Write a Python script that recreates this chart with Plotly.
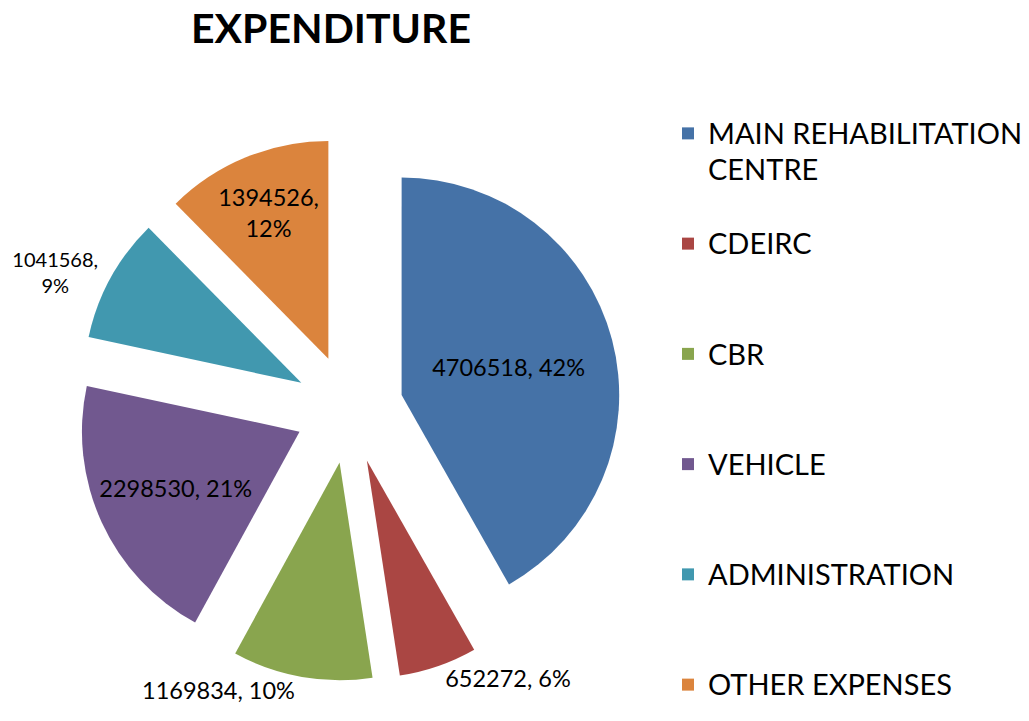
import textwrap
import plotly.graph_objects as go

categories = ["MAIN REHABILITATION CENTRE", "CDEIRC", "CBR", "VEHICLE",
              "ADMINISTRATION", "OTHER EXPENSES"]
amounts = [4706518, 652272, 1169834, 2298530, 1041568, 1394526]
percent_labels = ["42%", "6%", "10%", "21%", "9%", "12%"]
colors = ["#4572A7", "#AA4643", "#89A54E", "#71588F", "#4198AF", "#DB843D"]

FONT = "Lato"
W, H = 1029, 721

# data labels
label_break = [", ", ", ", ", ", ", ", ",<br>", ",<br>"]
label_pos = ["inside", "outside", "outside", "inside", "outside", "inside"]
label_size = [23.5, 23.5, 23.5, 23.5, 20, 23.5]
texts = [f"{a}{b}{p}" for a, b, p in zip(amounts, label_break, percent_labels)]

# legend labels: 3 lines each, marker aligned with top line
LEG_GLYPH = 29
legend_labels = []
for c in categories:
    lines = textwrap.wrap(c, 20)
    while len(lines) < 3:
        lines.append("\u00a0")
    legend_labels.append("<br>".join(
        f'<span style="font-size:{LEG_GLYPH}px">{ln}</span>' for ln in lines))

fig = go.Figure(go.Pie(
    labels=legend_labels,
    values=amounts,
    text=texts,
    texttemplate="%{text}",
    textposition=label_pos,
    insidetextorientation="horizontal",
    textfont=dict(family=FONT, size=label_size, color="#000000"),
    marker=dict(colors=colors, line=dict(width=0)),
    sort=False,
    direction="clockwise",
    rotation=0,
    pull=[0.25] * 6,
    domain=dict(x=[69 / W, 613 / W], y=[1 - 673 / H, 1 - 129 / H]),
    hoverinfo="skip",
))

fig.update_layout(
    width=W, height=H,
    margin=dict(l=0, r=0, t=0, b=0, autoexpand=False),
    paper_bgcolor="white",
    plot_bgcolor="white",
    font=dict(family=FONT, color="#000000"),
    title=dict(text="<b>EXPENDITURE</b>", x=323 / W, xanchor="center",
               y=1 - 21 / H, yanchor="middle", yref="container",
               font=dict(family=FONT, size=41, color="#000000")),
    legend=dict(x=660 / W, xanchor="left", y=1 - 101 / H, yanchor="top",
                font=dict(family=FONT, size=27.5, color="#000000"),
                valign="top", bgcolor="rgba(0,0,0,0)"),
    showlegend=True,
)

fig.write_html("out.html")
